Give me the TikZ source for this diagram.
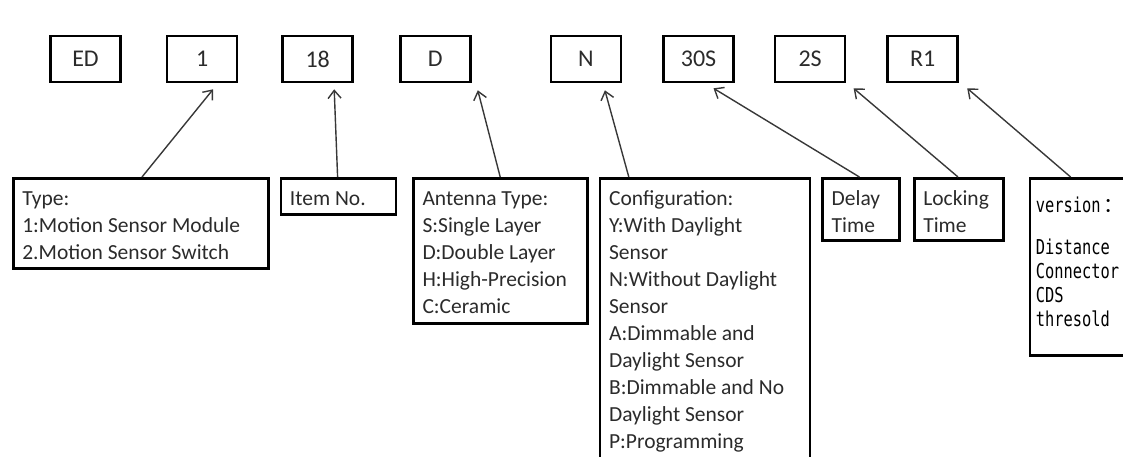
\documentclass[tikz,border=0pt]{standalone}
\usepackage{fontspec}
\setmainfont{Carlito}
\newfontfamily\verfont{DejaVu Sans Mono}[FakeStretch=0.75]
\newfontfamily\cjkfont{Noto Sans CJK SC}
\usetikzlibrary{arrows.meta,positioning}
\definecolor{inkgray}{HTML}{2B2B2B}
\definecolor{wiregray}{HTML}{383838}

\begin{document}
\begin{tikzpicture}[x=1pt,y=-1pt,
  code/.style={rectangle,draw=black,line width=2.6pt,minimum width=70pt,minimum height=46pt,inner sep=0pt,font=\fontsize{24}{28}\selectfont,text=inkgray},
  desc/.style={rectangle,draw=black,line width=2.6pt,anchor=north west,inner xsep=9pt,inner ysep=8pt,font=\fontsize{21.5}{27}\selectfont,text=inkgray},
  arr/.style={-{Straight Barb[length=8pt,width=13pt]},line width=1.4pt,draw=wiregray},
  node distance=40pt
]
\clip (0,0) rectangle (1123,457);
% code row
\node[code] (ed) at (85.5,59) {ED};
\node[code,right=44pt of ed] (typeno) {1};
\node[code,right=43pt of typeno] (itemno) {18};
\node[code,right=45pt of itemno] (ant) {D};
\node[code,right=78pt of ant] (cfg) {N};
\node[code,right=40pt of cfg] (dly) {30S};
\node[code,right=39pt of dly] (lck) {2S};
\node[code,right=40pt of lck] (ver) {R1};
% description row
\node[desc] (typebox) at (12,177) {\parbox[t][74pt][t]{237pt}{\strut Type:\\1:Motion Sensor Module\\2.Motion Sensor Switch}};
\node[desc,right=10pt of typebox.north east,anchor=north west] (itembox) {\parbox[t][20pt][t]{97pt}{\strut Item No.}};
\node[desc,right=15pt of itembox.north east,anchor=north west] (antbox) {\parbox[t][129pt][t]{156pt}{\strut Antenna Type:\\S:Single Layer\\D:Double Layer\\H:High-Precision\\C:Ceramic}};
\node[desc,right=10pt of antbox.north east,anchor=north west] (cfgbox) {\parbox[t][300pt][t]{192pt}{\strut Configuration:\\Y:With Daylight\\Sensor\\N:Without Daylight\\Sensor\\A:Dimmable and\\Daylight Sensor\\B:Dimmable and No\\Daylight Sensor\\P:Programming}};
\node[desc,right=10pt of cfgbox.north east,anchor=north west] (dlybox) {\parbox[t][46pt][t]{59pt}{\strut Delay\\Time}};
\node[desc,right=12pt of dlybox.north east,anchor=north west] (lckbox) {\parbox[t][46pt][t]{71pt}{\strut Locking\\Time}};
\node[desc,right=24pt of lckbox.north east,anchor=north west,inner xsep=6pt,font=\verfont\fontsize{20.5}{24}\selectfont,text=black] (verbox) {\parbox[t][161pt][t]{88pt}{\rule{0pt}{26pt}version\kern3pt{\cjkfont ：}\\[18pt]Distance\\Connector\\CDS\\thresold}};
% pointers
\draw[arr] ([xshift=130pt]typebox.north west) -- ([xshift=11pt,yshift=-6pt]typeno.south);
\draw[arr] ([xshift=58pt]itembox.north west) -- ([xshift=16.5pt,yshift=-6pt]itemno.south);
\draw[arr] ([xshift=88pt]antbox.north west) -- ([xshift=42.5pt,yshift=-7pt]ant.south);
\draw[arr] ([xshift=30pt]cfgbox.north west) -- ([xshift=19pt,yshift=-7pt]cfg.south);
\draw[arr] ([xshift=38pt]dlybox.north west) -- ([xshift=15pt,yshift=-5pt]dly.south);
\draw[arr] ([xshift=45pt]lckbox.north west) -- ([xshift=43.5pt,yshift=-5pt]lck.south);
\draw[arr] ([xshift=42pt]verbox.north west) -- ([xshift=44.5pt,yshift=-5pt]ver.south);
\end{tikzpicture}
\end{document}
